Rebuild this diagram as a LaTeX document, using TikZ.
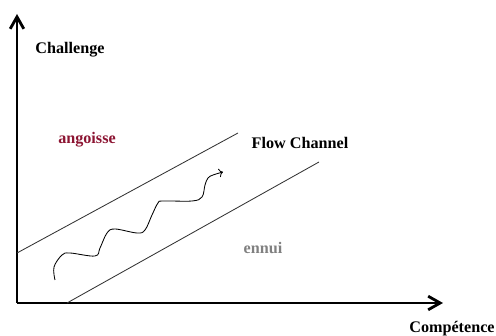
\documentclass[tikz,border=0pt]{standalone}
\usepackage{fontspec}
\setmainfont{Liberation Serif}
\usepackage{tikz}
\usetikzlibrary{arrows.meta}
\definecolor{angred}{RGB}{140,20,50}

\tikzset{
    axis/.style={line width=2pt, -{Straight Barb[length=3mm,width=3.4mm]}},
    chan/.style={line width=0.6pt, color=black!80},
    lbl/.style={font=\fontsize{11.5}{13}\selectfont\bfseries, inner sep=0pt}
}

\begin{document}
\begin{tikzpicture}
    \useasboundingbox (0,0) rectangle (12.4,8.4);
    \coordinate (origin) at (0.425,0.825);
    \coordinate (ytip) at (0.425,8.05);
    \coordinate (xtip) at (11.075,0.825);
    \draw[axis] (origin) -- (ytip);
    \draw[axis] (origin) -- (xtip);
    % channel borders
    \coordinate (upA) at (0.425,2.075);
    \coordinate (upB) at (5.95,5.075);
    \coordinate (loA) at (1.675,0.825);
    \coordinate (loB) at (7.975,4.35);
    \draw[chan] (upA) -- (upB);
    \draw[chan] (loA) -- (loB);
    \node[lbl] (chal) at (1.75,7.15) {Challenge};
    \node[lbl, color=angred] (ang) at (2.175,4.9) {angoisse};
    \node[lbl] (flow) at (7.5,4.825) {Flow Channel};
    \node[lbl, color=gray] (ennui) at (6.575,2.2) {ennui};
    \node[lbl] (comp) at (11.3,0.175) {Compétence};
    % wiggly path
    \draw[->, line width=0.6pt] plot[smooth, tension=0.6] coordinates {
        (1.375,1.4) (1.35,1.725) (1.55,2.025) (1.75,2.075) (2.375,2.0)
        (2.5,2.2) (2.675,2.575) (2.875,2.675) (3.425,2.575) (3.625,2.65)
        (3.8,3.025) (3.95,3.325) (4.075,3.375) (4.8,3.375) (5.05,3.475)
        (5.125,3.775) (5.2,3.95) (5.325,4.025) (5.575,4.1)};
\end{tikzpicture}
\end{document}
